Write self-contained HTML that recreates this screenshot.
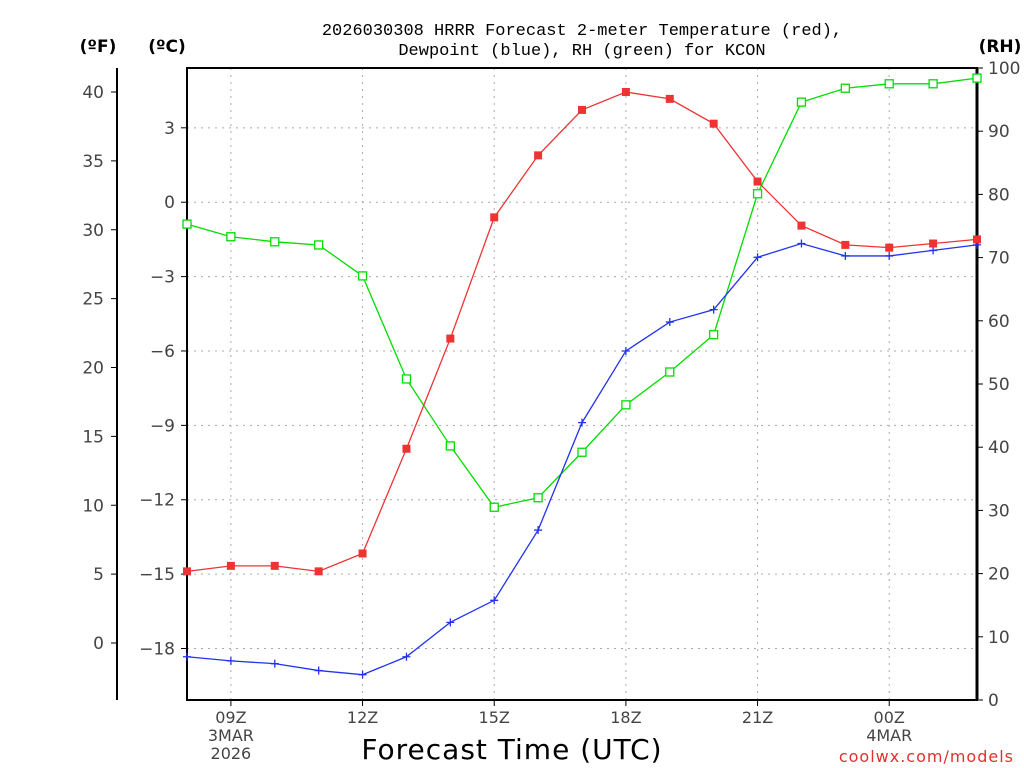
<!DOCTYPE html>
<html><head><meta charset="utf-8">
<style>
body{margin:0;background:#fff;width:1024px;height:768px;overflow:hidden}
svg{display:block}
text{font-family:"DejaVu Sans","Liberation Sans",sans-serif}
</style></head><body>
<svg id="c" width="1024" height="768"></svg>
<script>
const hours=["08Z","09Z","10Z","11Z","12Z","13Z","14Z","15Z","16Z","17Z","18Z","19Z","20Z","21Z","22Z","23Z","00Z","01Z","02Z"];
const tempF=[5.2,5.6,5.6,5.2,6.5,14.1,22.1,30.9,35.4,38.7,40.0,39.5,37.7,33.5,30.3,28.9,28.7,29.0,29.3];
const dewF=[-1.0,-1.3,-1.5,-2.0,-2.3,-1.0,1.5,3.1,8.2,16.0,21.2,23.3,24.2,28.0,29.0,28.1,28.1,28.5,28.9];
const rh=[75.3,73.3,72.5,72.0,67.1,50.8,40.2,30.5,32.0,39.2,46.7,51.9,57.8,80.1,94.6,96.8,97.5,97.5,98.4];
const fTicks=[0,5,10,15,20,25,30,35,40];
const cTicks=[-18,-15,-12,-9,-6,-3,0,3];
const rhTicks=[0,10,20,30,40,50,60,70,80,90,100];
const xTickIdx=[1,4,7,10,13,16];

const NS="http://www.w3.org/2000/svg",svg=document.getElementById('c');
const L=187,R=977,T=68,B=700;
const x=i=>L+i*(R-L)/(hours.length-1);
const yF=f=>643-f*13.775;
const yC=c=>yF(c*9/5+32);
const yR=r=>B-r*(B-T)/100;
function el(t,a,p){const e=document.createElementNS(NS,t);for(const k in a)e.setAttribute(k,a[k]);(p||svg).appendChild(e);return e;}
function tx(s,a,n){const e=el('text',a);e.textContent=s;return e;}

const g=el('g',{});


xTickIdx.forEach(i=>el('line',{x1:x(i),x2:x(i),y1:T,y2:B,stroke:'#aaa','stroke-dasharray':'2,5'},g));
cTicks.forEach(c=>el('line',{x1:L,x2:R,y1:yC(c),y2:yC(c),stroke:'#aaa','stroke-dasharray':'2,5'},g));

const fr=el('rect',{x:L,y:T,width:R-L,height:B-T,fill:'none',stroke:'#000','stroke-width':2});


el('line',{x1:R,x2:R,y1:T,y2:B,stroke:'#000','stroke-width':3});
const fa=el('line',{x1:117,x2:117,y1:T,y2:B,stroke:'#000','stroke-width':2});



const lab={'font-size':17,fill:'#444'};
fTicks.forEach(f=>{el('line',{x1:111,x2:117,y1:yF(f),y2:yF(f),stroke:'#000'});tx(String(f),{...lab,x:104,y:yF(f)+6,'text-anchor':'end'},'f-tick-label');});
cTicks.forEach(c=>{el('line',{x1:L-6,x2:L,y1:yC(c),y2:yC(c),stroke:'#000'});tx(c<0?'\u2212'+(-c):String(c),{...lab,x:175,y:yC(c)+6,'text-anchor':'end'},'c-tick-label');});
rhTicks.forEach(r=>{el('line',{x1:R,x2:R+6,y1:yR(r),y2:yR(r),stroke:'#000'});tx(String(r),{...lab,x:988,y:yR(r)+6},'rh-tick-label');});
xTickIdx.forEach(i=>{el('line',{x1:x(i),x2:x(i),y1:B,y2:B+6,stroke:'#000'});tx(hours[i],{x:x(i),y:723,'text-anchor':'middle','font-size':16,fill:'#444'},'x-tick-label');});
tx('3MAR',{x:x(1),y:741,'text-anchor':'middle','font-size':16,fill:'#444'},'date-label');
tx('2026',{x:x(1),y:759,'text-anchor':'middle','font-size':16,fill:'#444'},'year-label');
tx('4MAR',{x:x(16),y:741,'text-anchor':'middle','font-size':16,fill:'#444'},'date-label');

tx('(ºF)',{x:98,y:52,'text-anchor':'middle','font-size':17,'font-weight':'bold'},'f-axis-title');
tx('(ºC)',{x:167,y:52,'text-anchor':'middle','font-size':17,'font-weight':'bold'},'c-axis-title');
tx('(RH)',{x:1000,y:52,'text-anchor':'middle','font-size':17,'font-weight':'bold'},'rh-axis-title');
tx('2026030308 HRRR Forecast 2-meter Temperature (red),',{x:582,y:35,'text-anchor':'middle','font-size':17,style:'font-family:"Liberation Mono",monospace'},'chart-title');
tx('Dewpoint (blue), RH (green) for KCON',{x:582,y:55,'text-anchor':'middle','font-size':17,style:'font-family:"Liberation Mono",monospace'},'chart-subtitle');
tx('Forecast Time (UTC)',{x:512,y:759,'text-anchor':'middle','font-size':28,'letter-spacing':'1'},'x-axis-title');
tx('coolwx.com/models',{x:1014,y:762,'text-anchor':'end','font-size':16,fill:'#e03030','letter-spacing':'1'},'credit');

function series(vals,yf,color,mark,name){
  const pts=vals.map((v,i)=>x(i)+','+yf(v)).join(' ');
  const pl=el('polyline',{points:pts,fill:'none',stroke:color,'stroke-width':1.3});
  
  
  vals.forEach((v,i)=>{
    const cx=x(i),cy=yf(v);let m;
    if(mark==='fill')m=el('rect',{x:cx-4,y:cy-4,width:8,height:8,fill:color});
    else if(mark==='open')m=el('rect',{x:cx-4,y:cy-4,width:8,height:8,fill:'#fff',stroke:color,'stroke-width':1.3});
    else{m=el('path',{d:`M${cx-4} ${cy}H${cx+4}M${cx} ${cy-4}V${cy+4}`,stroke:color,'stroke-width':1.3});}
    
    
  });
}
series(rh,yR,'#00dd00','open','rh');
series(dewF,yF,'#2233ee','plus','dewpoint');
series(tempF,yF,'#ee3333','fill','temperature');
</script>
</body></html>
